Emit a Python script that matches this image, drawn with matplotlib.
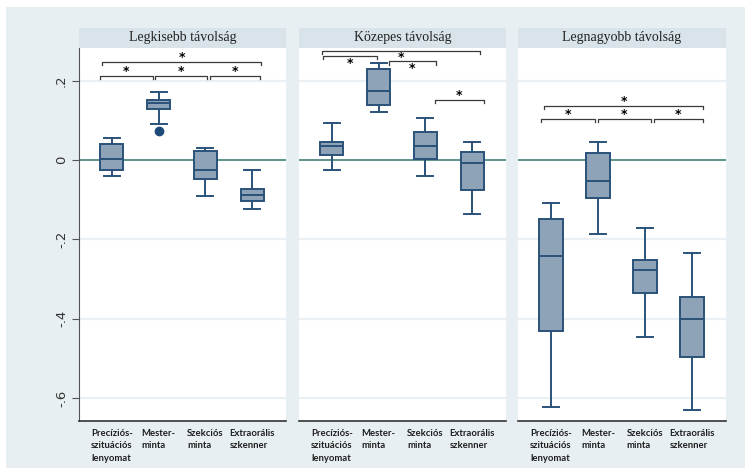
import matplotlib
matplotlib.use("Agg")
import matplotlib.pyplot as plt
from matplotlib.patches import Rectangle

W, H = 745, 468

categories = ["Precíziós-\nszituációs\nlenyomat", "Mester-\nminta",
              "Szekciós\nminta", "Extraorális\nszkenner"]
panel_titles = ["Legkisebb távolság", "Közepes távolság", "Legnagyobb távolság"]

# box statistics
small_whislo = [-0.040, 0.091, -0.091, -0.123]
small_q1 = [-0.024, 0.128, -0.047, -0.103]
small_med = [0.003, 0.145, -0.026, -0.089]
small_q3 = [0.040, 0.152, 0.023, -0.072]
small_whishi = [0.056, 0.172, 0.030, -0.026]
small_fliers = [[], [0.073], [], []]

mid_whislo = [-0.024, 0.122, -0.040, -0.137]
mid_q1 = [0.014, 0.140, 0.003, -0.074]
mid_med = [0.035, 0.175, 0.035, -0.008]
mid_q3 = [0.046, 0.229, 0.071, 0.021]
mid_whishi = [0.093, 0.246, 0.106, 0.045]
mid_fliers = [[], [], [], []]

large_whislo = [-0.622, -0.187, -0.445, -0.629]
large_q1 = [-0.430, -0.095, -0.334, -0.496]
large_med = [-0.241, -0.053, -0.277, -0.400]
large_q3 = [-0.149, 0.017, -0.252, -0.344]
large_whishi = [-0.107, 0.046, -0.171, -0.235]
large_fliers = [[], [], [], []]

# significance brackets: (x from, x to, level, star above?)
small_sig = [(0.79, 4.19, 0.248, True), (0.75, 1.87, 0.213, True),
             (1.915, 3.04, 0.213, True), (3.10, 4.17, 0.213, True)]
mid_sig = [(0.79, 4.17, 0.276, False), (0.81, 1.96, 0.262, False),
           (2.22, 3.22, 0.249, False), (3.20, 4.24, 0.152, True)]
large_sig = [(0.86, 4.24, 0.137, True), (0.79, 1.94, 0.104, True),
             (1.99, 3.13, 0.104, True), (3.18, 4.24, 0.104, True)]

yticks = [0.2, 0, -0.2, -0.4, -0.6]
ytick_labels = [".2", "0", "-.2", "-.4", "-.6"]

panels = [
    (small_whislo, small_q1, small_med, small_q3, small_whishi, small_fliers, small_sig),
    (mid_whislo, mid_q1, mid_med, mid_q3, mid_whishi, mid_fliers, mid_sig),
    (large_whislo, large_q1, large_med, large_q3, large_whishi, large_fliers, large_sig),
]
panel_px = [(79, 286), (299, 506), (518, 726)]

bg = "#e8eff3"
strip = "#d8e4ea"
box_face = "#8ea3b7"
box_edge = "#2a527a"
zero_col = "#4e8c83"


def px_rect(x0, y0, x1, y1):
    return [x0 / W, 1 - y1 / H, (x1 - x0) / W, (y1 - y0) / H]


fig = plt.figure(figsize=(W / 100, H / 100), dpi=100, facecolor="white")
fig.patches.append(Rectangle((6 / W, 0), 1, 1 - 7 / H, transform=fig.transFigure,
                             facecolor=bg, edgecolor="none", zorder=-10))

for k, (lo, q1, med, q3, hi, fl, sig) in enumerate(panels):
    x0, x1 = panel_px[k]
    ax = fig.add_axes(px_rect(x0, 48, x1, 421))
    ax.set_facecolor("white")

    stats = []
    for i in range(4):
        stats.append(dict(whislo=lo[i], q1=q1[i], med=med[i], q3=q3[i],
                          whishi=hi[i], fliers=fl[i]))
    ax.bxp(stats, positions=[1, 2, 3, 4], widths=0.5, capwidths=0.34,
           patch_artist=True, showfliers=True,
           boxprops=dict(facecolor=box_face, edgecolor=box_edge, linewidth=1.4),
           medianprops=dict(color=box_edge, linewidth=1.4),
           whiskerprops=dict(color=box_edge, linewidth=1.4),
           capprops=dict(color=box_edge, linewidth=1.4),
           flierprops=dict(marker="o", markerfacecolor="#1d4a78",
                           markeredgecolor="#1d4a78", markersize=6))

    for yv in yticks:
        if yv != 0:
            ax.axhline(yv, color="#eaf0f3", linewidth=1.6, zorder=0)
    ax.axhline(0, color=zero_col, linewidth=1.3, zorder=1)

    for a, b, lev, above in sig:
        t = 0.008
        ax.plot([a, a, b, b], [lev - t, lev, lev, lev - t], color="#3a3a3a",
                linewidth=0.9, zorder=3)
        sy = lev + 0.011 if above else lev - 0.017
        ax.text((a + b) / 2, sy, "*", ha="center", va="center",
                fontsize=9, fontweight="bold", color="black")

    ax.set_xlim(0.3, 4.72)
    ax.set_ylim(-0.658, 0.283)
    ax.set_xticks([1, 2, 3, 4])
    ax.set_xticklabels(categories, fontsize=6.8, fontweight="bold",
                       family="Lato", color="#1e1e1e", linespacing=1.45,
                       multialignment="left")
    ax.tick_params(axis="x", length=0, pad=6)
    ax.spines["top"].set_visible(False)
    ax.spines["right"].set_visible(False)
    ax.spines["bottom"].set_color("#333333")
    ax.spines["bottom"].set_linewidth(1.2)
    if k == 0:
        ax.set_yticks(yticks)
        ax.set_yticklabels(ytick_labels, rotation=90, va="center",
                           fontsize=9.5, color="#333333")
        ax.tick_params(axis="y", length=5, color="#555555", pad=3)
        ax.spines["left"].set_color("#555555")
    else:
        ax.set_yticks([])
        ax.spines["left"].set_visible(False)

    tax = fig.add_axes(px_rect(x0, 28, x1, 48))
    tax.set_facecolor(strip)
    tax.set_xticks([])
    tax.set_yticks([])
    for s in tax.spines.values():
        s.set_visible(False)
    tax.text(0.5, 0.5, panel_titles[k], ha="center", va="center",
             fontsize=10, family="Liberation Serif", color="#222222",
             transform=tax.transAxes)

fig.savefig("out.png", dpi=100, facecolor="white")
